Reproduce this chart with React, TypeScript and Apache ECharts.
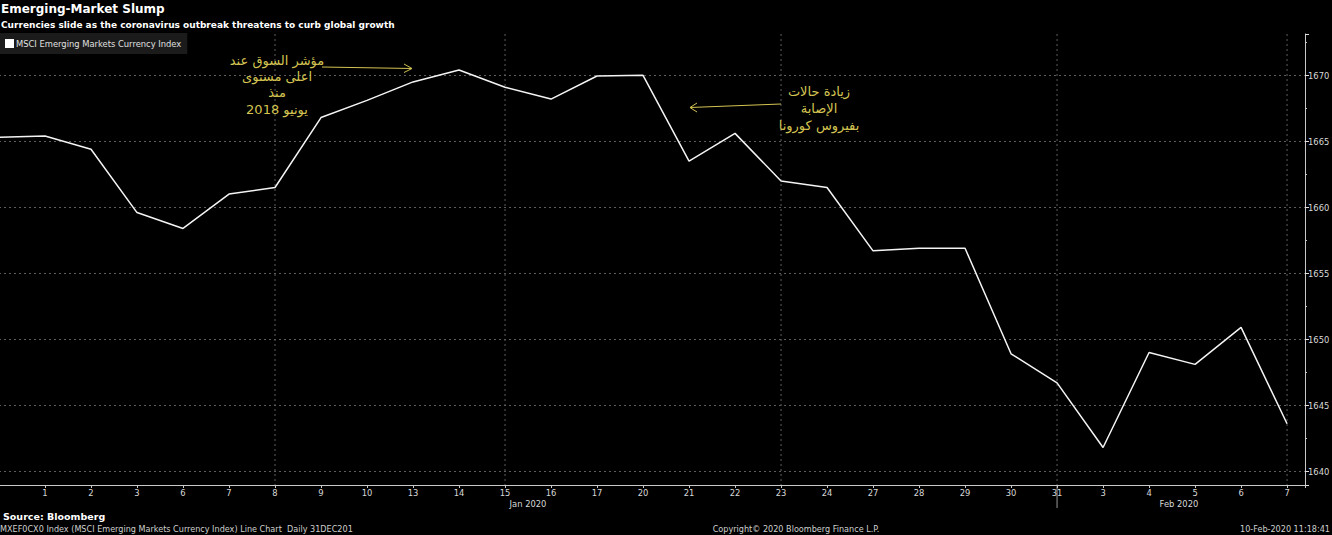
import React, { useEffect, useRef } from "react";
import * as echarts from "echarts";

const dayLabels = ["31", "1", "2", "3", "6", "7", "8", "9", "10", "13", "14", "15", "16", "17", "20", "21", "22", "23", "24", "27", "28", "29", "30", "31", "3", "4", "5", "6", "7"];
const indexValues = [1665.3, 1665.4, 1664.4, 1659.6, 1658.4, 1661.0, 1661.5, 1666.8, 1668.1, 1669.5, 1670.4, 1669.1, 1668.2, 1669.95, 1670.0, 1663.5, 1665.6, 1662.0, 1661.5, 1656.7, 1656.9, 1656.9, 1648.9, 1646.7, 1641.8, 1649.0, 1648.1, 1650.9, 1643.6];
const weekGridIdx = [6, 11, 17, 23, 28];
const monthLabels = ["Jan 2020", "Feb 2020"];
const monthLabelPos = [11.5, 25.65];
const monthSeparatorIdx = [23];
const seriesName = "MSCI Emerging Markets Currency Index";

const NARROW = "'Liberation Sans Narrow', 'DejaVu Sans Condensed', 'Arial Narrow', sans-serif";
const BOLD = "'DejaVu Sans', Verdana, sans-serif";
const ARABIC = "'DejaVu Sans', 'Noto Sans', sans-serif";
const ANN = "#d4c452";
const GRID = "#5c5c5c";

export default function App() {
  const ref = useRef<HTMLDivElement>(null);
  useEffect(() => {
    const chart = echarts.init(ref.current!, null, { renderer: "svg" });
    const data = indexValues.map((v, i) => [i, v]);
    const yMin = 1638.96;
    const yMax = 1673.13;
    chart.setOption({
      animation: false,
      backgroundColor: "#000",
      title: {
        text: "Emerging-Market Slump",
        subtext: "Currencies slide as the coronavirus outbreak threatens to curb global growth",
        left: 0,
        top: 3,
        padding: [0, 0, 0, 1],
        itemGap: 5,
        textStyle: { color: "#fff", fontSize: 12, fontWeight: "bold", fontFamily: BOLD },
        subtextStyle: { color: "#fff", fontSize: 9, fontWeight: "bold", fontFamily: BOLD },
      },
      legend: {
        left: 0,
        top: 33,
        padding: [6, 6, 6, 5],
        backgroundColor: "#1b1b1b",
        icon: "rect",
        itemWidth: 9,
        itemHeight: 9,
        itemGap: 3,
        textStyle: { color: "#e0e0e0", fontSize: 9.3, fontFamily: NARROW, padding: [0, 0, 0, -3] },
        data: [{ name: seriesName, itemStyle: { color: "#fff" } }],
      },
      grid: { left: -1, top: 34, width: 1306, height: 451, outerBoundsMode: "none" },
      xAxis: {
        type: "value",
        min: 0,
        max: 28.39,
        interval: 1,
        axisLine: { show: true, onZero: false, lineStyle: { color: "#c8c8c8", width: 1 } },
        axisTick: { show: true, length: 3, lineStyle: { color: "#c8c8c8" } },
        splitLine: { show: false },
        minorSplitLine: { show: false },
        axisLabel: {
          color: "#d8d8d8",
          fontSize: 9.3,
          fontFamily: NARROW,
          margin: 3,
          showMinLabel: false,
          formatter: (v: number) => (Number.isInteger(v) && v > 0 && v < dayLabels.length ? dayLabels[v] : ""),
        },
      },
      yAxis: {
        type: "value",
        position: "right",
        min: yMin,
        max: yMax,
        splitNumber: 7,
        axisLine: { show: true, onZero: false, lineStyle: { color: "#c8c8c8", width: 1 } },
        axisTick: { show: true, length: 4, lineStyle: { color: "#e0e0e0" } },
        minorTick: { show: true, splitNumber: 2, length: 2, lineStyle: { color: "#c8c8c8" } },
        splitLine: { show: true, showMinLine: false, showMaxLine: false, lineStyle: { color: GRID, type: [2, 3], width: 1 } },
        axisLabel: {
          color: "#d8d8d8",
          fontSize: 9.3,
          fontFamily: NARROW,
          margin: 3,
          formatter: (v: number) => (Math.abs(v / 5 - Math.round(v / 5)) < 1e-6 ? String(Math.round(v)) : ""),
        },
      },
      series: [
        {
          name: seriesName,
          type: "line",
          data,
          showSymbol: false,
          symbol: "none",
          lineStyle: { color: "#f4f4f4", width: 1.5 },
          itemStyle: { color: "#fff" },
          z: 3,
        },
      ],
    });

    const px = (x: number, y: number) => chart.convertToPixel({ gridIndex: 0 }, [x, y]) as number[];
    const bottomY = px(0, yMin)[1];
    const topY = px(0, yMax)[1];
    const graphics: any[] = [];
    weekGridIdx.forEach((i) => {
      const p = px(i, yMin);
      graphics.push({
        type: "line",
        z: 0,
        shape: { x1: p[0], y1: topY, x2: p[0], y2: bottomY },
        style: { stroke: GRID, lineWidth: 1, lineDash: [2, 3] },
      });
    });
    monthLabels.forEach((t, k) => {
      const p = px(monthLabelPos[k], yMin);
      graphics.push({
        type: "text",
        x: p[0],
        y: bottomY + 18,
        style: { text: t, fill: "#d8d8d8", font: `9.3px ${NARROW}`, align: "center", verticalAlign: "middle" },
      });
    });
    monthSeparatorIdx.forEach((i) => {
      const p = px(i, yMin);
      graphics.push({
        type: "line",
        shape: { x1: p[0], y1: bottomY, x2: p[0], y2: bottomY + 23 },
        style: { stroke: "#9a9a9a", lineWidth: 1 },
      });
    });
    // annotations
    graphics.push({
      type: "text",
      x: 277,
      y: 52,
      style: {
        text: "مؤشر السوق عند\nاعلى مستوى\nمنذ\nيونيو 2018",
        fill: ANN,
        font: `13px ${ARABIC}`,
        align: "center",
        lineHeight: 16.3,
      },
    });
    graphics.push({ type: "line", shape: { x1: 322, y1: 67, x2: 412, y2: 68.5 }, style: { stroke: ANN, lineWidth: 1 } });
    graphics.push({ type: "polyline", shape: { points: [[404, 64], [412, 68.5], [404, 72.5]] }, style: { stroke: ANN, lineWidth: 1, fill: null } });
    graphics.push({
      type: "text",
      x: 819,
      y: 83,
      style: {
        text: "زيادة حالات\nالإصابة\nبفيروس كورونا",
        fill: ANN,
        font: `13px ${ARABIC}`,
        align: "center",
        lineHeight: 17,
      },
    });
    graphics.push({ type: "line", shape: { x1: 781, y1: 104, x2: 690, y2: 107.5 }, style: { stroke: ANN, lineWidth: 1 } });
    graphics.push({ type: "polyline", shape: { points: [[697, 103], [690, 107.5], [697, 112]] }, style: { stroke: ANN, lineWidth: 1, fill: null } });
    // footer
    graphics.push({ type: "text", x: 3, y: 516, style: { text: "Source: Bloomberg", fill: "#fff", font: `bold 9.5px ${BOLD}`, verticalAlign: "middle" } });
    graphics.push({
      type: "text",
      x: 0,
      y: 529,
      style: { text: "MXEF0CX0 Index (MSCI Emerging Markets Currency Index) Line Chart  Daily 31DEC201", fill: "#cfcfcf", font: `9px ${NARROW}`, verticalAlign: "middle" },
    });
    graphics.push({
      type: "text",
      x: 796,
      y: 529,
      style: { text: "Copyright© 2020 Bloomberg Finance L.P.", fill: "#cfcfcf", font: `9px ${NARROW}`, align: "center", verticalAlign: "middle" },
    });
    graphics.push({
      type: "text",
      x: 1330,
      y: 529,
      style: { text: "10-Feb-2020 11:18:41", fill: "#cfcfcf", font: `9px ${NARROW}`, align: "right", verticalAlign: "middle" },
    });
    chart.setOption({ graphic: graphics });
    return () => chart.dispose();
  }, []);
  return <div ref={ref} style={{ position: "fixed", left: 0, top: 0, width: 1332, height: 535, background: "#000" }} />;
}
